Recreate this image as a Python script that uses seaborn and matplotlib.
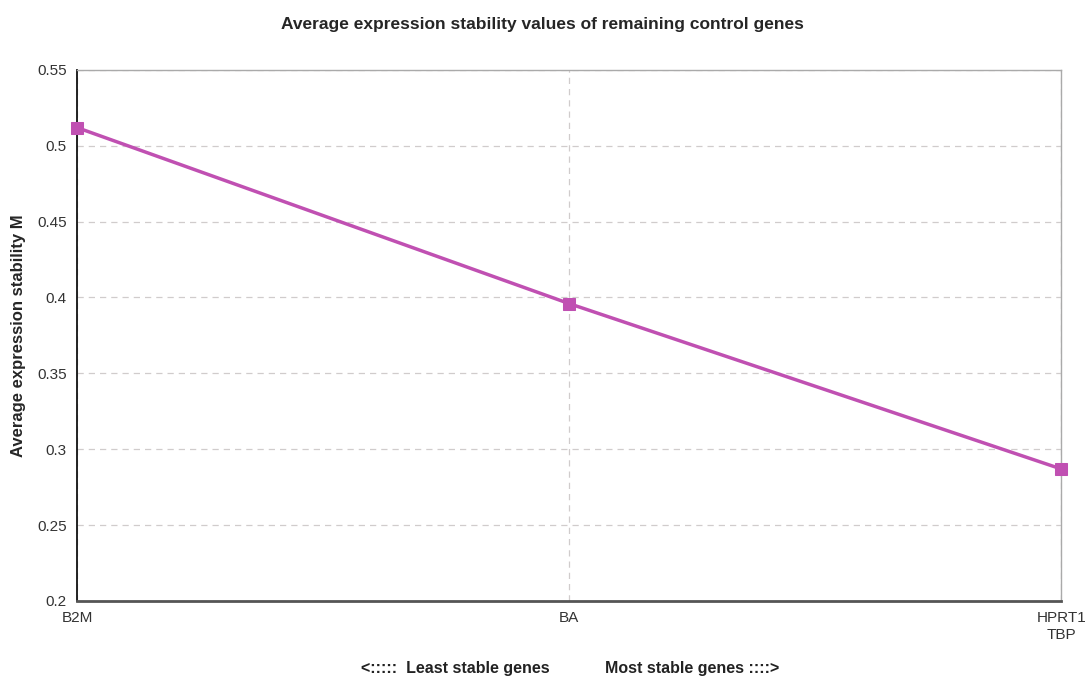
import numpy as np
import matplotlib.pyplot as plt
import seaborn as sb
import pandas as pd

genes = ["B2M", "BA", "HPRT1\nTBP"]
stability = [0.512, 0.396, 0.287]

df = pd.DataFrame({"pos": np.arange(len(genes)), "M": stability})

sb.set_style("white")
plt.rcParams['font.family'] = ['Liberation Sans', 'DejaVu Sans']

fig = plt.figure(figsize=(10.85, 6.79), dpi=100)
ax = fig.add_axes([0.071, 0.115, 0.907, 0.782])

col = "#C050B2"
sb.lineplot(data=df, x="pos", y="M", ax=ax, color=col, lw=2.5,
            marker="s", markersize=9, markeredgecolor=col, sort=False,
            clip_on=False, zorder=5)

ax.set_xlim(0, len(genes) - 1)
ax.set_ylim(0.2, 0.55)
ax.set_xticks(df["pos"])
ax.set_xticklabels(genes, fontsize=11, color="#333333")
last = ax.get_xticklabels()[-1]
last.set_multialignment("center")
last.set_horizontalalignment("center")
ax.set_yticks(np.arange(0.2, 0.551, 0.05))
ax.set_yticklabels(["0.2", "0.25", "0.3", "0.35", "0.4", "0.45", "0.5", "0.55"],
                   fontsize=11, color="#333333")
ax.tick_params(axis="both", length=4, width=1, direction="out", colors="#333333")
ax.tick_params(axis="both", labelcolor="#333333")

ax.grid(True, ls=(0, (5, 4)), color="#d0cccc", lw=0.9)
ax.set_axisbelow(True)
for s in ["top", "right"]:
    ax.spines[s].set_color("#aaaaaa")
    ax.spines[s].set_linewidth(1)
ax.spines["left"].set_color("#111111")
ax.spines["left"].set_linewidth(1.3)
ax.spines["bottom"].set_color("#555555")
ax.spines["bottom"].set_linewidth(2)

ax.set_xlabel("")
ax.set_ylabel("Average expression stability M", fontsize=12, fontweight="bold",
              labelpad=8)
fig.suptitle("Average expression stability values of remaining control genes",
             fontsize=12.5, fontweight="bold", y=0.975)

fig.text(455 / 1085, 1 - 668 / 679, "<:::::  Least stable genes", ha="center",
         va="center", fontsize=11.5, fontweight="bold", color="#222222")
fig.text(692 / 1085, 1 - 668 / 679, "Most stable genes ::::>", ha="center",
         va="center", fontsize=11.5, fontweight="bold", color="#222222")

fig.savefig("out.png", dpi=100)
